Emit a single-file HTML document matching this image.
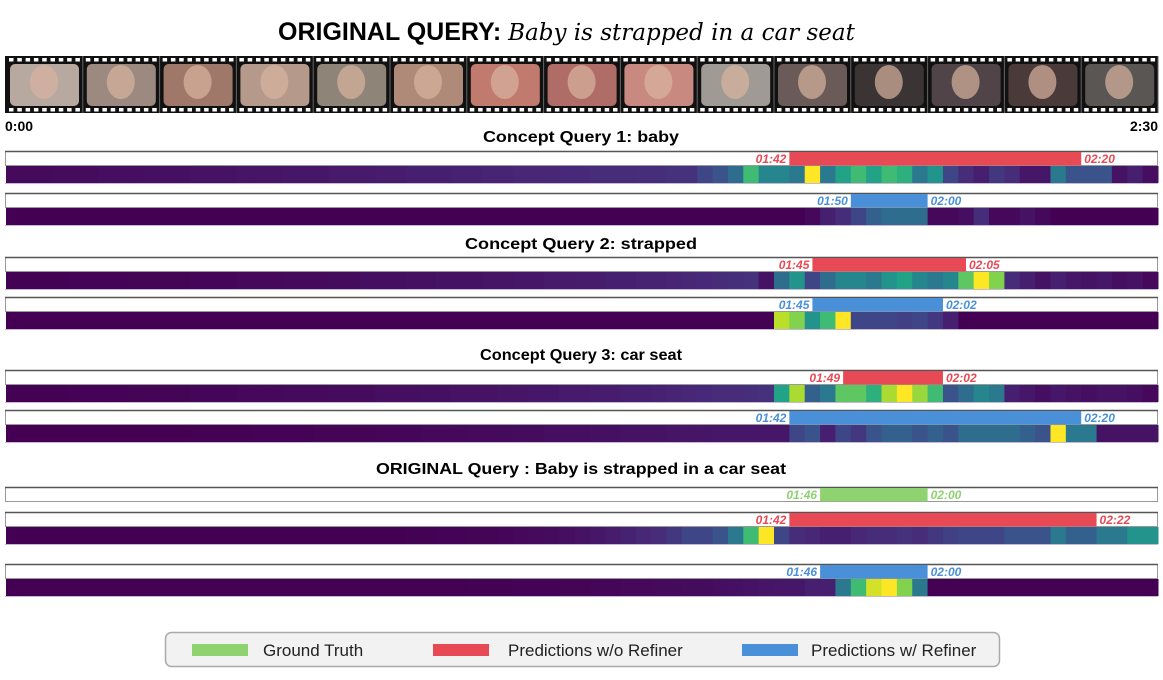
<!DOCTYPE html>
<html><head><meta charset="utf-8"><style>
body{margin:0;background:#fff;width:1163px;height:675px;overflow:hidden;font-family:"Liberation Sans",sans-serif}
</style></head><body>
<svg id="c" width="1163" height="675" xmlns="http://www.w3.org/2000/svg"></svg>
<script>
const frameColors=["#b8a9a0","#9c8a80","#a0786a","#b59a8c","#8f8478","#b08a78","#c07a6e","#b06c66","#c88a80","#a09a94","#6a5a58","#3a3434","#504448","#4a3a3a","#5a5654"];
const rowVals=[
[.06,.06,.06,.07,.07,.07,.08,.08,.08,.09,.09,.09,.1,.1,.1,.11,.11,.11,.12,.12,.12,.13,.13,.13,.14,.14,.15,.15,.15,.16,.16,.17,.17,.18,.18,.18,.19,.19,.2,.2,.2,.21,.21,.22,.22,.3,.35,.45,.75,.55,.55,.5,1,.5,.65,.75,.65,.75,.7,.5,.6,.3,.2,.15,.25,.2,.12,.12,.5,.35,.35,.35,.1,.15,.08],
[0,0,0,0,0,0,0,0,0,0,0,0,0,0,0,0,0,0,0,0,0,0,0,0,0,0,0,0,0,0,0,0,0,0,0,0,0,0,0,0,0,0,0,0,0,0,0,0,0,0,0,0,.05,.15,.2,.3,.4,.45,.45,.45,.05,.05,.08,.2,.05,.05,.1,.05,0,0,0,0,0,0,0],
[.01,.01,.01,.01,.02,.02,.02,.02,.03,.03,.03,.03,.04,.04,.04,.05,.05,.05,.06,.06,.06,.07,.07,.08,.08,.08,.09,.09,.1,.1,.1,.11,.11,.12,.12,.13,.13,.14,.14,.15,.15,.16,.16,.17,.18,.19,.2,.21,.22,.1,.45,.6,.3,.45,.55,.55,.5,.6,.65,.55,.5,.55,.8,1,.85,.2,.15,.1,.15,.12,.1,.12,.08,.1,.05],
[0,0,0,0,0,0,0,0,0,0,0,0,0,0,0,0,0,0,0,0,0,0,0,0,0,0,0,0,0,0,0,0,0,0,0,0,0,0,0,0,0,0,0,0,0,0,0,0,0,0,.92,.85,.6,.75,1,.3,.3,.3,.28,.3,.25,.15,0,0,0,0,0,0,0,0,0,0,0,0,0],
[.01,.01,.01,.01,.02,.02,.02,.02,.03,.03,.03,.03,.04,.04,.04,.05,.05,.05,.06,.06,.06,.07,.07,.07,.08,.08,.08,.09,.09,.1,.1,.1,.11,.11,.12,.12,.13,.13,.14,.14,.15,.15,.16,.17,.18,.19,.2,.2,.21,.22,.65,.9,.4,.5,.8,.8,.7,.9,1,.88,.75,.35,.45,.55,.5,.15,.12,.08,.12,.1,.08,.1,.1,.08,.05],
[0,0,0,0,0,0,0,0,0,0,0,0,.01,.01,.01,.01,.02,.02,.02,.02,.03,.03,.03,.03,.04,.04,.04,.05,.05,.05,.06,.06,.06,.07,.07,.08,.08,.08,.09,.09,.1,.1,.1,.11,.11,.11,.12,.12,.12,.12,.12,.3,.35,.15,.3,.25,.35,.4,.4,.35,.4,.35,.45,.45,.45,.45,.4,.35,1,.5,.5,.1,.1,.1,.1],
[0,0,0,0,0,0,0,0,0,0,0,0,0,0,0,0,0,0,0,0,0,0,0,0,0,0,.01,.01,.02,.02,.03,.03,.04,.05,.06,.07,.08,.1,.12,.14,.16,.18,.2,.25,.3,.3,.35,.5,.75,1,.3,.2,.18,.15,.15,.18,.2,.2,.22,.2,.25,.28,.3,.3,.3,.35,.35,.35,.5,.4,.4,.5,.5,.6,.6],
[0,0,0,0,0,0,0,0,0,0,0,0,0,0,0,0,0,0,0,0,0,0,0,0,0,0,0,0,0,0,.01,.01,.01,.02,.02,.02,.03,.03,.04,.04,.05,.05,.06,.06,.07,.07,.08,.09,.1,.11,.12,.12,.15,.15,.5,.75,.95,1,.85,.5,0,0,0,0,0,0,0,0,0,0,0,0,0,0,0]
];
const barStarts=["01:42","01:50","01:45","01:45","01:49","01:42","01:46","01:42","01:46"];
const barEnds=["02:20","02:00","02:05","02:02","02:02","02:20","02:00","02:22","02:00"];
const barKinds=["red","blue","red","blue","red","blue","green","red","blue"];
const barHeat=[0,1,2,3,4,5,-1,6,7];
const titles=["Concept Query 1: baby","Concept Query 2: strapped","Concept Query 3: car seat","ORIGINAL Query : Baby is strapped in a car seat"];
const titleLen=[196,232,202,410];

const NS="http://www.w3.org/2000/svg",svg=document.getElementById('c');
function el(t,a,p){const e=document.createElementNS(NS,t);for(const k in a)e.setAttribute(k,a[k]);(p||svg).appendChild(e);return e;}
const X0=6,X1=1158,TOT=150;
const xs=s=>X0+s/TOT*(X1-X0);
const sec=t=>{const [m,s]=t.split(':').map(Number);return m*60+s;};
const VIR=[[68,1,84],[72,40,120],[62,74,137],[49,104,142],[38,130,142],[31,158,137],[53,183,121],[109,205,89],[180,222,44],[253,231,37]];
function vir(v){v=Math.pow(Math.max(0,Math.min(1,v)),1.3)*9;const i=Math.min(8,Math.floor(v)),f=v-i,a=VIR[i],b=VIR[i+1];return `rgb(${a.map((c,k)=>Math.round(c+(b[k]-c)*f)).join(',')})`;}
const COL={red:"#e84a55",blue:"#4a90d9",green:"#8ed36f"};

let t=el('text',{x:278,y:40,'font-size':25,'font-weight':'bold'});

t.innerHTML='ORIGINAL QUERY: <tspan font-weight="normal" font-style="italic" font-family="DejaVu Serif, serif" font-size="23">Baby is strapped in a car seat</tspan>';

const fs=el('g',{});
el('rect',{x:5,y:56,width:1153,height:57,fill:'#111'},fs);
for(let i=0;i<15;i++){const fx=6+i*76.8;
 el('rect',{x:fx+4,y:64,width:69,height:42,rx:5,fill:frameColors[i]},fs);
 el('ellipse',{cx:fx+38,cy:82,rx:14,ry:17,fill:'#d9b4a0',opacity:.7},fs);
 el('line',{x1:fx+76.8,y1:56,x2:fx+76.8,y2:113,stroke:'#666','stroke-width':1},fs);
 for(let j=0;j<9;j++){el('rect',{x:fx+3+j*8.3,y:58,width:4.5,height:3.5,fill:'#fff'},fs);el('rect',{x:fx+3+j*8.3,y:108,width:4.5,height:3.5,fill:'#fff'},fs);}
}
let a=el('text',{x:5,y:131,'font-size':14,'font-weight':'bold'});a.textContent='0:00';

a=el('text',{x:1158,y:131,'font-size':14,'font-weight':'bold','text-anchor':'end'});a.textContent='2:30';


const titleY=[142,249,360,474];
titles.forEach((s,i)=>{const e=el('text',{x:581-titleLen[i]/2,y:titleY[i],'font-size':16,'font-weight':'bold',textLength:titleLen[i],lengthAdjust:'spacingAndGlyphs'});e.textContent=s;
 });

const boxY=[151,193,257,297,370,410,487,512,564];
barStarts.forEach((st,i)=>{
 const y=boxY[i],g=el('g',{});
 
 el('rect',{x:5.5,y:y+.5,width:1152,height:14,fill:'#fff',stroke:'#999','stroke-width':1},g);
 el('line',{x1:5,y1:y+.5,x2:1158,y2:y+.5,stroke:'#555','stroke-width':1.5},g);
 const x1=xs(sec(st)),x2=xs(sec(barEnds[i]));
 const b=el('rect',{x:x1,y:y+1,width:x2-x1,height:13.5,fill:COL[barKinds[i]]},g);
 
 let l=el('text',{x:x1-3,y:y+12,'text-anchor':'end','font-size':12,'font-style':'italic','font-weight':'bold',fill:COL[barKinds[i]]},g);l.textContent=st;
 
 l=el('text',{x:x2+3,y:y+12,'font-size':12,'font-style':'italic','font-weight':'bold',fill:COL[barKinds[i]]},g);l.textContent=barEnds[i];
 
 const h=barHeat[i];
 if(h>=0){const vals=rowVals[h],n=vals.length,w=(X1-X0)/n;
  const hg=el('g',{},g);
  vals.forEach((v,k)=>{const c=el('rect',{x:X0+k*w,y:y+15,width:w+.5,height:17,fill:vir(v)},hg);
   });
  el('line',{x1:5,y1:y+32.5,x2:1158,y2:y+32.5,stroke:'#c8b8d8','stroke-width':1},hg);
 }
});

const lg=el('g',{});
el('rect',{x:165.5,y:632.5,width:834,height:34,rx:6,fill:'#f2f2f2',stroke:'#aaa','stroke-width':1.5},lg);
[["Ground Truth","green",192,263],["Predictions w/o Refiner","red",433,508],["Predictions w/ Refiner","blue",742,811]].forEach(([s,k,sx,tx])=>{
 const e=el('g',{},lg);
 el('rect',{x:sx,y:644,width:56,height:12,fill:COL[k]},e);
 const tt=el('text',{x:tx,y:656,'font-size':17,fill:'#222'},e);tt.textContent=s;
});
</script>
</body></html>
